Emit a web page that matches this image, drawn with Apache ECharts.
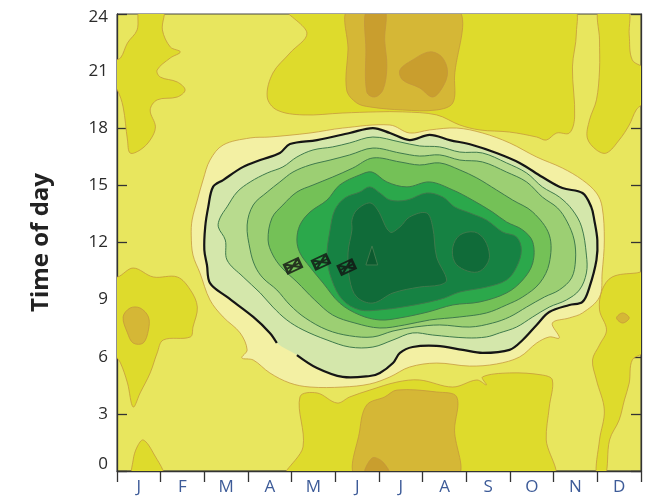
<!DOCTYPE html>
<html>
<head>
<meta charset="utf-8">
<script src="https://cdn.jsdelivr.net/npm/echarts@6/dist/echarts.min.js"></script>
<style>
html, body { margin: 0; padding: 0; background: #fff; }
#chart { width: 656px; height: 499px; }
</style>
</head>
<body>
<div id="chart"></div>
<script>
// x = month (0..12), y = hour of day (0..24)
let months = ['J', 'F', 'M', 'A', 'M', 'J', 'J', 'A', 'S', 'O', 'N', 'D'];

// lower-than-background patches (darker yellow)
let darkYellowPatches = [
    [[0.53, 24.3], [1.06, 24.3], [1.04, 23.16], [1.22, 22.27], [1.45, 22.01], [1.22, 21.69], [0.92, 21.06], [0.99, 20.69], [1.38, 20.43], [1.56, 20.01], [1.38, 19.64], [0.92, 19.49], [0.76, 18.96], [0.88, 18.07], [0.76, 17.38], [0.53, 16.86], [0.30, 16.70], [0.24, 17.38], [0.14, 19.12], [0.01, 20.0], [-0.1, 20.27], [-0.1, 21.48], [0.08, 21.69], [0.24, 22.48], [0.46, 23.16]],
    [[3.89, 24.3], [4.35, 23.00], [3.96, 21.95], [3.57, 20.90], [3.44, 19.64], [3.66, 18.96], [4.26, 18.70], [5.17, 18.80], [5.95, 18.86], [6.54, 18.86], [7.32, 18.70], [7.85, 18.17], [8.31, 17.91], [8.99, 17.80], [9.61, 17.54], [9.83, 17.38], [10.07, 17.75], [10.36, 17.75], [10.48, 18.59], [10.43, 21.22], [10.52, 23.00], [10.43, 24.3]],
    [[11.05, 24.3], [11.69, 24.3], [11.73, 22.90], [11.80, 21.59], [12.1, 21.06], [12.1, 19.49], [11.89, 18.96], [11.73, 18.17], [11.50, 17.38], [11.21, 16.70], [10.98, 16.86], [10.77, 17.49], [10.82, 18.43], [10.98, 19.49], [11.05, 21.06], [11.05, 22.64]],
    [[-0.1, 10.4], [0.01, 10.19], [0.37, 10.66], [0.83, 10.19], [1.38, 10.19], [1.68, 9.51], [1.84, 8.61], [1.74, 7.56], [1.68, 7.04], [1.06, 6.88], [0.92, 6.20], [0.76, 5.15], [0.53, 4.10], [0.37, 3.36], [0.24, 4.62], [0.08, 5.67], [-0.1, 6.36]],
    [[0.46, 1.26], [0.60, 1.63], [0.83, 0.95], [1.06, -0.3], [0.37, -0.3], [0.37, 0.58]],
    [[3.89, -0.3], [4.26, 1.26], [4.19, 3.89], [4.58, 4.10], [5.04, 3.57], [5.33, 3.89], [5.79, 4.25], [6.41, 4.67], [6.93, 4.78], [7.69, 4.41], [8.24, 4.78], [8.46, 4.52], [8.37, 4.94], [8.99, 5.15], [9.74, 5.04], [9.97, 4.78], [9.90, 3.36], [9.83, 1.63], [9.97, -0.3]],
    [[11.11, 9.51], [11.34, 10.19], [11.89, 10.40], [12.1, 10.40], [12.1, 6.36], [11.80, 5.83], [11.73, 4.62], [11.62, 3.73], [11.50, 2.68], [11.28, 1.63], [11.18, -0.3], [10.98, -0.3], [11.05, 1.63], [11.16, 3.20], [10.98, 4.78], [10.89, 5.83], [11.05, 6.62], [11.21, 7.41], [11.05, 8.46]]
];
let ochrePatches = [
    [[5.33, 24.3], [7.78, 24.3], [7.73, 20.69], [7.69, 19.33], [7.32, 18.96], [6.54, 18.96], [5.79, 19.12], [5.49, 19.33], [5.26, 20.01], [5.29, 22.11]],
    [[0.14, 8.09], [0.30, 8.56], [0.53, 8.56], [0.72, 8.09], [0.72, 7.41], [0.60, 6.72], [0.37, 6.72], [0.24, 7.25]],
    [[5.49, -0.3], [5.56, 2.15], [5.72, 3.47], [6.13, 3.89], [6.41, 4.25], [7.32, 4.15], [7.78, 3.89], [7.73, 2.15], [7.78, -0.3]],
    [[11.44, 8.04], [11.58, 8.30], [11.73, 8.04], [11.58, 7.77]]
];
let darkOchrePatches = [
    [[5.72, 24.3], [6.13, 24.3], [6.13, 22.64], [6.18, 21.22], [6.09, 20.01], [5.90, 19.64], [5.72, 19.91], [5.70, 22.11]],
    [[6.48, 21.06], [6.77, 21.59], [7.16, 22.01], [7.44, 21.74], [7.57, 20.96], [7.46, 20.17], [7.23, 19.64], [6.93, 20.12], [6.54, 20.54]],
    [[5.67, -0.3], [5.84, 0.68], [6.09, 0.47], [6.25, -0.3]]
];

// higher-than-background levels, outer to inner
let paleHalo = [[6.25, 18.17], [5.17, 18.01], [4.42, 17.75], [3.50, 17.54], [3.05, 17.49], [2.43, 17.12], [2.13, 16.33], [1.97, 15.28], [1.84, 14.23], [1.72, 13.18], [1.70, 12.39], [1.74, 11.34], [1.90, 10.40], [2.13, 8.98], [2.43, 8.09], [2.82, 7.25], [2.98, 6.36], [2.86, 5.94], [3.12, 5.83], [3.50, 5.15], [3.96, 4.62], [4.42, 4.41], [5.17, 4.41], [5.79, 4.57], [6.25, 4.94], [6.70, 5.46], [7.32, 5.67], [8.07, 5.51], [8.69, 5.62], [9.22, 5.99], [9.61, 6.72], [9.90, 7.04], [10.13, 6.99], [9.97, 7.77], [10.36, 8.04], [10.66, 8.30], [11.05, 9.14], [11.11, 10.40], [11.16, 12.13], [11.11, 13.87], [10.98, 14.60], [10.66, 15.28], [10.20, 15.91], [9.61, 16.49], [8.99, 17.23], [8.37, 17.75], [7.78, 18.01], [7.16, 17.91], [6.70, 17.75]];

// black contour, starts right after the small break at lower left
let blackContour = [[4.12, 6.09], [4.58, 5.41], [5.17, 4.94], [5.79, 4.99], [6.02, 5.15], [6.32, 5.67], [6.48, 6.20], [6.77, 6.51], [7.32, 6.57], [7.92, 6.36], [8.37, 6.20], [8.99, 6.36], [9.29, 6.88], [9.61, 7.67], [9.90, 8.35], [10.36, 8.72], [10.66, 8.88], [10.82, 9.66], [10.98, 11.08], [11.00, 12.13], [10.93, 13.18], [10.86, 13.87], [10.66, 14.60], [10.20, 14.86], [9.74, 15.44], [9.22, 16.18], [8.69, 16.70], [8.14, 17.12], [7.62, 17.38], [7.16, 17.65], [6.70, 17.38], [6.25, 17.75], [5.86, 18.01], [5.33, 17.75], [4.58, 17.38], [3.96, 17.17], [3.73, 16.70], [3.28, 16.33], [2.89, 15.97], [2.43, 15.28], [2.20, 14.92], [2.09, 13.87], [2.02, 12.82], [2.00, 11.61], [2.06, 10.82], [2.13, 9.87], [2.52, 9.14], [3.12, 8.09], [3.50, 7.25], [3.66, 6.72]];

let level3 = [[4.12, 16.49], [4.49, 16.86], [4.94, 17.02], [5.33, 17.23], [5.86, 17.54], [6.48, 17.28], [6.93, 17.07], [7.39, 17.02], [7.85, 16.75], [8.37, 16.70], [8.92, 16.18], [9.38, 15.65], [9.74, 14.92], [10.13, 14.39], [10.43, 13.71], [10.64, 12.82], [10.75, 11.34], [10.75, 10.40], [10.59, 9.51], [10.29, 8.98], [9.90, 8.61], [9.52, 8.09], [9.15, 7.56], [8.76, 7.25], [8.46, 7.04], [8.01, 6.99], [7.23, 7.14], [6.77, 7.25], [6.32, 6.88], [5.86, 6.51], [5.33, 6.51], [4.81, 6.88], [4.26, 7.41], [3.89, 7.93], [3.57, 8.61], [3.28, 9.35], [2.89, 10.19], [2.52, 11.08], [2.48, 12.13], [2.32, 12.82], [2.36, 13.29], [2.52, 13.87], [2.75, 14.65], [3.05, 15.18], [3.44, 15.65], [3.80, 15.97]];
let level4 = [[2.98, 12.92], [3.12, 13.97], [3.44, 14.65], [3.73, 15.18], [4.03, 15.70], [4.42, 16.07], [4.88, 16.33], [5.33, 16.60], [5.86, 16.96], [6.48, 16.70], [6.93, 16.54], [7.39, 16.60], [7.85, 16.33], [8.37, 16.23], [8.92, 15.70], [9.38, 15.18], [9.74, 14.39], [10.09, 13.81], [10.31, 13.08], [10.47, 12.13], [10.50, 11.08], [10.41, 10.14], [10.13, 9.51], [9.79, 9.14], [9.38, 8.61], [8.99, 8.09], [8.60, 7.77], [8.08, 7.56], [7.39, 7.67], [6.82, 7.56], [6.32, 7.35], [5.86, 7.04], [5.33, 7.10], [4.81, 7.41], [4.31, 8.04], [3.96, 8.72], [3.66, 9.51], [3.34, 10.14], [3.16, 10.77], [3.05, 11.61]];
let level5 = [[3.46, 12.13], [3.55, 13.29], [3.80, 13.97], [4.12, 14.65], [4.49, 15.02], [4.94, 15.44], [5.40, 15.91], [5.86, 16.44], [6.48, 16.23], [6.93, 16.07], [7.39, 16.18], [7.85, 15.81], [8.24, 15.39], [8.69, 14.76], [9.06, 14.23], [9.52, 13.60], [9.90, 12.39], [9.90, 10.92], [9.68, 9.87], [9.29, 9.14], [8.92, 8.72], [8.46, 8.30], [7.85, 8.09], [7.16, 7.93], [6.59, 7.67], [6.02, 7.51], [5.45, 7.77], [4.94, 8.19], [4.53, 8.98], [4.12, 9.93], [3.78, 10.66], [3.57, 11.34]];
let level6 = [[4.12, 12.13], [4.19, 12.92], [4.42, 13.60], [4.81, 14.23], [5.10, 15.02], [5.56, 15.55], [5.84, 15.70], [6.18, 15.18], [6.64, 14.92], [7.16, 15.18], [7.69, 14.76], [8.14, 14.23], [8.60, 13.60], [8.92, 13.08], [9.29, 12.66], [9.52, 12.03], [9.52, 10.92], [9.29, 10.03], [8.92, 9.35], [8.31, 8.88], [7.69, 8.72], [7.12, 8.35], [6.48, 8.04], [6.02, 7.93], [5.56, 8.19], [5.10, 8.82], [4.72, 9.87], [4.42, 10.71], [4.19, 11.45]];
let level7 = [[4.81, 11.24], [4.88, 12.66], [4.99, 13.71], [5.22, 14.34], [5.56, 14.65], [5.79, 14.92], [6.02, 14.60], [6.25, 14.23], [6.64, 14.23], [7.09, 14.60], [7.46, 14.39], [7.73, 13.87], [8.08, 13.55], [8.46, 13.18], [8.83, 12.55], [9.15, 12.29], [9.26, 11.61], [9.15, 10.71], [8.92, 10.03], [8.46, 9.66], [7.85, 9.40], [7.50, 9.09], [7.16, 8.88], [6.54, 8.61], [6.02, 8.46], [5.56, 8.46], [5.17, 8.98], [4.92, 10.03]];
let level8 = [
    [[5.38, 13.18], [5.49, 13.71], [5.79, 14.08], [5.97, 13.71], [6.25, 12.55], [6.48, 12.82], [6.70, 13.34], [7.09, 13.55], [7.23, 12.82], [7.32, 11.24], [7.55, 10.03], [7.39, 9.77], [6.93, 9.66], [6.32, 9.35], [5.86, 8.82], [5.49, 9.14], [5.33, 10.03], [5.29, 11.45], [5.38, 12.66]],
    [[7.69, 11.76], [7.85, 12.39], [8.19, 12.55], [8.42, 12.13], [8.53, 11.34], [8.46, 10.82], [8.26, 10.45], [7.96, 10.56], [7.73, 10.98]]
];
let level9 = [[5.84, 11.82], [5.97, 10.82], [5.70, 10.82]];

// sample points (month, hour)
let markerMonth = [4.03, 4.67, 5.26];
let markerHour = [10.77, 10.98, 10.71];

function area(polys, fill, stroke, width, smooth) {
    return {
        type: 'custom',
        coordinateSystem: 'cartesian2d',
        clip: true,
        silent: true,
        data: polys.map(function (p) { return p[0]; }),
        renderItem: function (params, api) {
            let pts = polys[params.dataIndex].map(function (p) { return api.coord(p); });
            return {
                type: 'polygon',
                shape: { points: pts, smooth: smooth },
                style: { fill: fill, stroke: stroke, lineWidth: width }
            };
        }
    };
}

let yellowLine = 'rgba(196,150,60,0.75)';
let greenLine = '#3f7a4c';

let series = [
    area(darkYellowPatches, '#dedb2c', yellowLine, 1, 0.35),
    area(ochrePatches, '#d5b736', yellowLine, 1, 0.35),
    area(darkOchrePatches, '#c99e2e', yellowLine, 1, 0.35),
    area([paleHalo], '#f3f0a3', yellowLine, 1, 0.35),
    area([blackContour], '#d4e7ab', 'none', 0, 0.35),
    area([level3], '#b8db8e', greenLine, 1, 0.35),
    area([level4], '#9ccf73', greenLine, 1, 0.35),
    area([level5], '#74c157', greenLine, 1, 0.35),
    area([level6], '#2ba84b', greenLine, 1, 0.35),
    area([level7], '#168243', greenLine, 1, 0.35),
    area(level8, '#106b39', greenLine, 1, 0.35),
    area([level9], '#0c5a2f', greenLine, 1, 0),
    {
        type: 'custom',
        coordinateSystem: 'cartesian2d',
        clip: true,
        silent: true,
        data: [blackContour[0]],
        renderItem: function (params, api) {
            return {
                type: 'polyline',
                shape: { points: blackContour.map(function (p) { return api.coord(p); }), smooth: 0.35 },
                style: { fill: 'none', stroke: '#151515', lineWidth: 2.2 }
            };
        }
    },
    {
        type: 'scatter',
        silent: true,
        symbol: 'path://M0 0H10V7H0Z M0 0L10 7 M10 0L0 7 M0 3.5H10',
        symbolSize: [15, 10],
        symbolRotate: 25,
        itemStyle: { color: 'rgba(0,0,0,0)', borderColor: '#111', borderWidth: 2.2 },
        data: markerMonth.map(function (m, i) { return [m, markerHour[i]]; })
    }
];

let myChart = echarts.init(document.getElementById('chart'));
myChart.setOption({
    animation: false,
    grid: {
        left: 117, right: 15, top: 14, bottom: 28,
        show: true, backgroundColor: '#e8e65e', borderColor: '#444', borderWidth: 1
    },
    xAxis: [{
        type: 'value', min: 0, max: 12, interval: 1,
        axisLine: { show: true, lineStyle: { color: '#333', width: 1.3 } },
        axisTick: { show: true, inside: false, length: 11, lineStyle: { color: '#333', width: 1.3 } },
        axisLabel: { show: false },
        splitLine: { show: false }
    }, {
        type: 'category', position: 'bottom', data: months, boundaryGap: true,
        axisLine: { show: false }, axisTick: { show: false },
        axisLabel: { color: '#3d5b98', fontSize: 17, fontFamily: 'Open Sans', margin: 8 }
    }],
    yAxis: [{
        type: 'value', min: 0, max: 24, interval: 3,
        name: 'Time of day', nameLocation: 'middle', nameGap: 64, nameRotate: 90,
        nameTextStyle: { fontSize: 24, fontWeight: 'bold', color: '#222', fontFamily: 'Open Sans' },
        axisLine: { show: true, lineStyle: { color: '#333', width: 1.3 } },
        axisTick: { show: true, inside: true, length: 10, lineStyle: { color: '#333', width: 1.3 } },
        axisLabel: {
            color: '#2b2b2b', fontSize: 17, fontFamily: 'Open Sans', margin: 9,
            formatter: function (v) {
                if (v === 0) return '{lo|0}';
                if (v === 24) return '{hi|24}';
                return v;
            },
            rich: {
                lo: { fontSize: 17, fontFamily: 'Open Sans', color: '#2b2b2b', padding: [0, 0, 14, 0] },
                hi: { fontSize: 17, fontFamily: 'Open Sans', color: '#2b2b2b', padding: [6, 0, 0, 0] }
            }
        },
        splitLine: { show: false }
    }, {
        type: 'value', min: 0, max: 24, interval: 3, position: 'right',
        axisLine: { show: true, lineStyle: { color: '#333', width: 1.3 } },
        axisTick: { show: true, inside: true, length: 10, lineStyle: { color: '#333', width: 1.3 } },
        axisLabel: { show: false },
        splitLine: { show: false }
    }],
    series: series
});
</script>
</body>
</html>
